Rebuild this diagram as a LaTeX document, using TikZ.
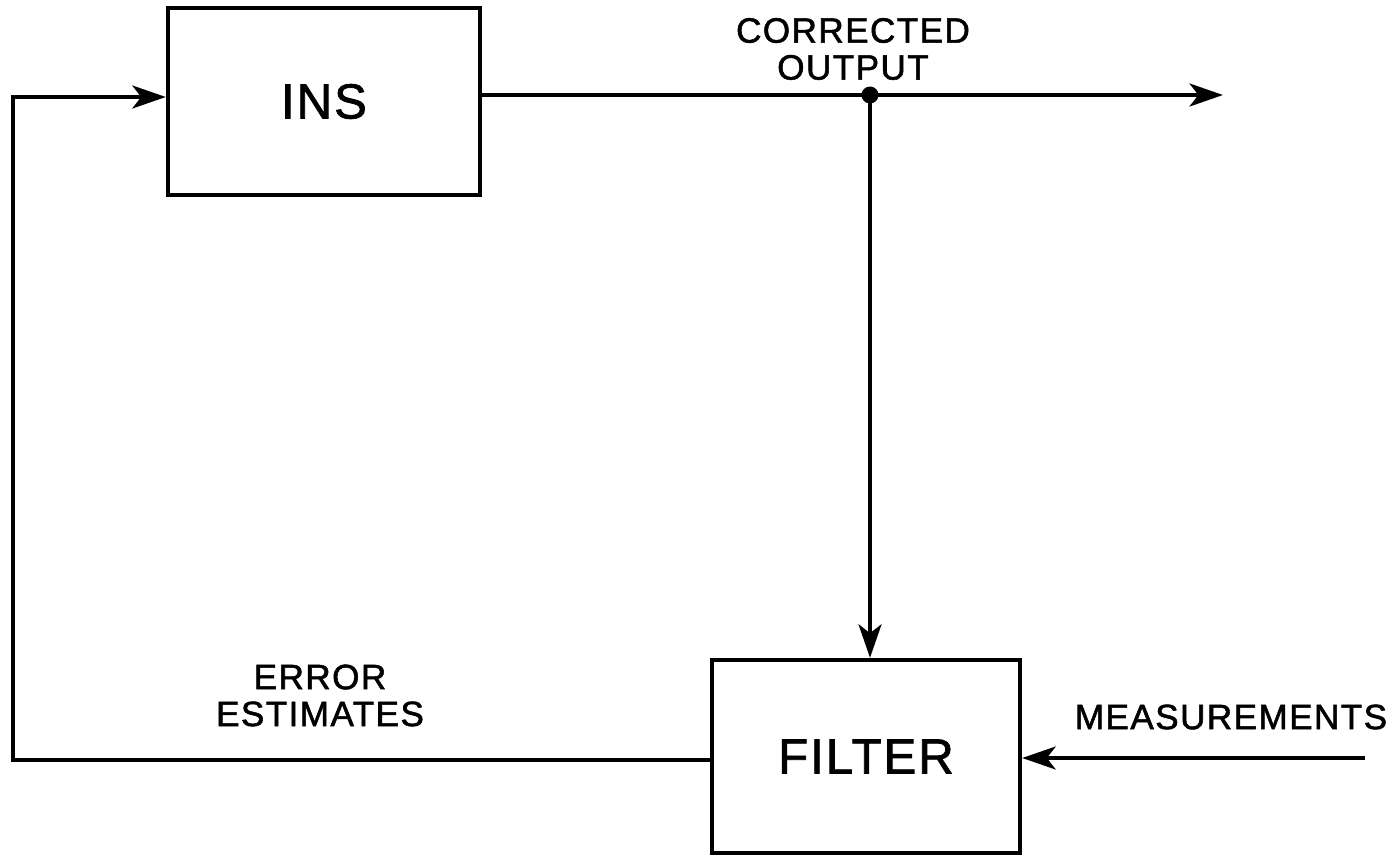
\documentclass[tikz,border=0pt]{standalone}
\usepackage{fontspec}
\setmainfont{Liberation Sans}
\newfontfamily\lettering[LetterSpace=4, FakeBold=1.5]{Liberation Sans}
\usepackage{tikz}
\usetikzlibrary{
  arrows.meta,
  positioning,
  calc
}
\tikzset{
  arrow/.style   = {-{Stealth[length=19pt, width=13pt, inset=5pt]}, line width=2.5pt},
  line/.style    = {line width=2.5pt},
  block/.style   = {draw, line width=2.5pt, align=center,
                    font=\lettering\fontsize{28}{32}\selectfont},
  label/.style   = {align=center, font=\lettering\fontsize{20}{21}\selectfont},
}

\begin{document}
\begin{tikzpicture}[x=1cm, y=-1cm]
    \useasboundingbox (0,0) rectangle (27.92,17.12);

    % --- BLOCKS ---
    \node[block, minimum width=6.24cm, minimum height=3.74cm] (ins) at (6.48, 2.03) {INS};
    \node[block, minimum width=6.16cm, minimum height=3.86cm] (filter) at (17.32, 15.13) {FILTER};

    % --- CORRECTED OUTPUT ---
    \coordinate (tap) at (17.40, 1.90);
    \coordinate (out) at (24.46, 1.90);
    \draw[line] (ins.east |- tap) -- (tap);
    \draw[arrow] (tap) -- (out);
    \fill (tap) circle (0.17);
    \node[label] (corr) at (17.06, 0.98) {CORRECTED\\OUTPUT};
    \draw[arrow] (tap) -- (tap |- filter.north);

    % --- FEEDBACK: ERROR ESTIMATES ---
    \coordinate (fbl) at (0.26, 15.20);
    \draw[arrow] (filter.west |- fbl) -- (fbl) -- (fbl |- 0,1.94) -- (ins.west |- 0,1.94);
    \node[label] (err) at (6.40, 13.91) {ERROR\\ESTIMATES};

    % --- MEASUREMENTS ---
    \coordinate (meas) at (27.30, 15.16);
    \draw[arrow] (meas) -- (filter.east |- meas);
    \node[label] (measlbl) at (24.62, 14.34) {MEASUREMENTS};

\end{tikzpicture}
\end{document}
